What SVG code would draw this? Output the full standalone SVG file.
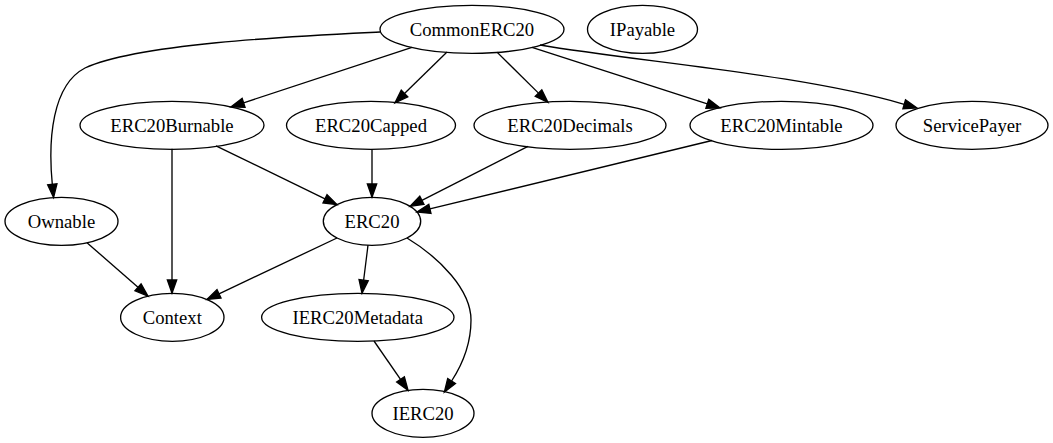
<svg xmlns="http://www.w3.org/2000/svg" width="1053" height="443" viewBox="0 0 1053 443">
<style>
.n ellipse{fill:none;stroke:#000;stroke-width:1.33}
.n text{font-family:"Liberation Serif","Times New Roman",serif;font-size:18.67px;text-anchor:middle;fill:#000}
.e path{fill:none;stroke:#000;stroke-width:1.33;marker-end:url(#ah)}
</style>
<defs>
<marker id="ah" markerUnits="userSpaceOnUse" markerWidth="14" markerHeight="10" refX="0" refY="4.67" orient="auto" overflow="visible">
<path d="M0,0 L13.3,4.67 L0,9.33 z" fill="#000" stroke="#000" stroke-width="1.33"/>
</marker>
</defs>
<rect width="1053" height="443" fill="#fff"/>
<g id="edges" class="e">
<path d="M380,32 C300,36 140,43 85,68 C52,85 48,140 52.3,184.3"/>
<path d="M412,47.3 L243.6,102.8"/>
<path d="M447,52.1 L404.5,93.5"/>
<path d="M497,52.1 L538.5,93.1"/>
<path d="M532,47.3 L707.3,103.8"/>
<path d="M540,45 C640,62 800,74 904.2,104.3"/>
<path d="M216,145.9 L325,198.8"/>
<path d="M172,148.8 L172,280"/>
<path d="M372,149.3 L372,184"/>
<path d="M528,146.4 L421.9,200.3"/>
<path d="M712,140.5 L429.9,208.9"/>
<path d="M87,242.7 L138,287.3"/>
<path d="M337,238 L219,293.8"/>
<path d="M368,245.2 L363.65,280.1"/>
<path d="M407,238 C440,258 471,290 471,320 C471,345 462,365 451.6,381"/>
<path d="M374,341 L400.5,379.4"/>
</g>
<g id="CommonERC20" class="n"><ellipse cx="472" cy="29.3" rx="92" ry="24"/><text x="472" y="35.5">CommonERC20</text></g>
<g id="IPayable" class="n"><ellipse cx="642.5" cy="29.3" rx="55" ry="24"/><text x="642.5" y="35.5">IPayable</text></g>
<g id="ERC20Burnable" class="n"><ellipse cx="172" cy="125.3" rx="92" ry="24"/><text x="172" y="131.5">ERC20Burnable</text></g>
<g id="ERC20Capped" class="n"><ellipse cx="371" cy="125.3" rx="84.5" ry="24"/><text x="371" y="131.5">ERC20Capped</text></g>
<g id="ERC20Decimals" class="n"><ellipse cx="570" cy="125.3" rx="96" ry="24"/><text x="570" y="131.5">ERC20Decimals</text></g>
<g id="ERC20Mintable" class="n"><ellipse cx="781.5" cy="125.3" rx="91.5" ry="24"/><text x="781.5" y="131.5">ERC20Mintable</text></g>
<g id="ServicePayer" class="n"><ellipse cx="972" cy="125.3" rx="76" ry="24"/><text x="972" y="131.5">ServicePayer</text></g>
<g id="Ownable" class="n"><ellipse cx="61.5" cy="221.3" rx="56.5" ry="24"/><text x="61.5" y="227.5">Ownable</text></g>
<g id="ERC20" class="n"><ellipse cx="372" cy="221.3" rx="48.7" ry="24"/><text x="372" y="227.5">ERC20</text></g>
<g id="Context" class="n"><ellipse cx="172.3" cy="317.3" rx="51.7" ry="24"/><text x="172.3" y="323.5">Context</text></g>
<g id="IERC20Metadata" class="n"><ellipse cx="357.8" cy="317.3" rx="96.2" ry="24"/><text x="357.8" y="323.5">IERC20Metadata</text></g>
<g id="IERC20" class="n"><ellipse cx="423" cy="413.3" rx="51" ry="24"/><text x="423" y="419.5">IERC20</text></g>
</svg>
